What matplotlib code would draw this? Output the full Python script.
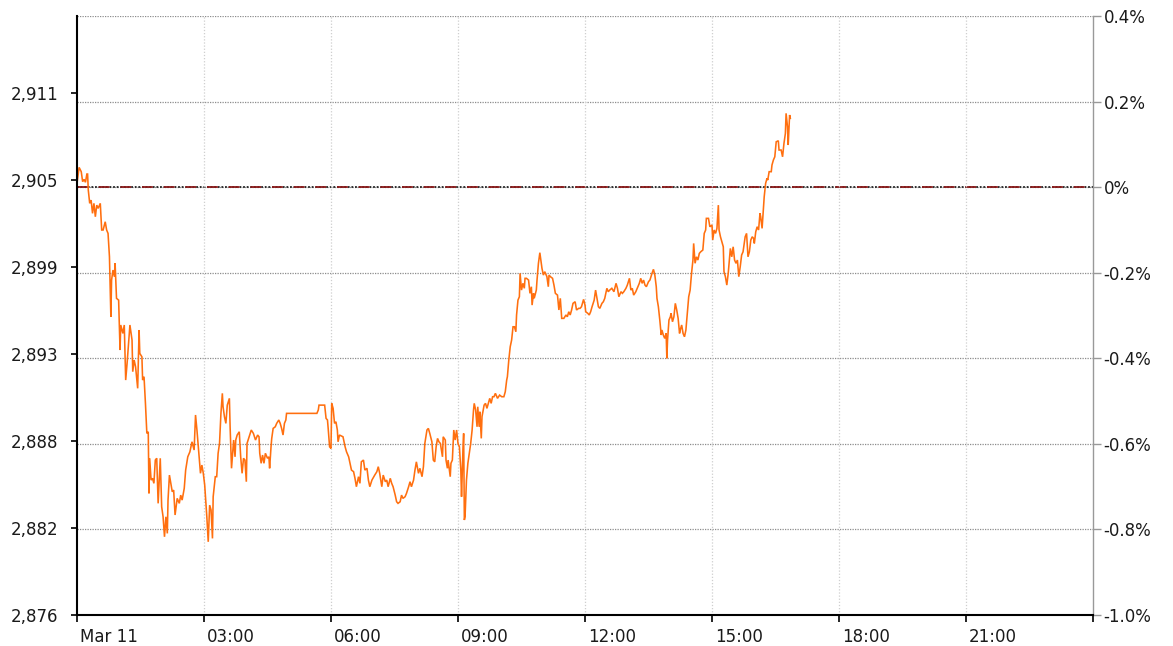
import matplotlib
matplotlib.use("Agg")
import matplotlib.pyplot as plt
import matplotlib.transforms as mtransforms
import numpy as np

# =============================================
# DATA (intraday price, Mar 11, minutes after midnight)
# =============================================
PREV_CLOSE = 2905.0

minutes = [
    0, 3, 6, 8, 10, 12, 14, 15, 16, 18, 20, 22, 24, 26, 28, 30, 33, 35, 37, 40,
    42, 44, 46, 48, 49, 51, 53, 54, 56, 59, 61, 62, 65, 67, 69, 71, 74, 75, 78, 79,
    81, 83, 86, 88, 89, 92, 93, 95, 97, 99, 101, 102, 103, 105, 107, 109, 111, 113, 115, 118,
    120, 122, 124, 126, 128, 129, 131, 133, 135, 137, 139, 142, 145, 147, 149, 152, 154, 157, 160, 163,
    166, 168, 170, 172, 175, 177, 179, 181, 184, 186, 188, 190, 192, 193, 196, 198, 200, 202, 204, 206,
    207, 209, 211, 213, 216, 217, 219, 222, 224, 225, 227, 230, 232, 234, 236, 238, 240, 241, 244, 247,
    250, 253, 256, 258, 259, 261, 263, 265, 267, 270, 272, 273, 275, 276, 278, 281, 283, 286, 288, 290,
    292, 294, 296, 297, 340, 342, 343, 351, 353, 355, 356, 358, 360, 361, 363, 365, 367, 369, 370, 372,
    377, 378, 380, 382, 385, 387, 389, 392, 394, 396, 399, 401, 403, 406, 408, 411, 413, 415, 418, 422,
    425, 427, 429, 432, 434, 437, 439, 441, 444, 446, 448, 451, 453, 455, 458, 460, 462, 465, 467, 470,
    472, 474, 477, 479, 481, 484, 486, 489, 491, 493, 496, 498, 500, 503, 505, 507, 509, 511, 513, 515,
    518, 519, 522, 523, 525, 526, 529, 530, 532, 534, 536, 538, 540, 542, 544, 545, 547, 548, 549, 550,
    552, 554, 556, 558, 560, 562, 563, 565, 567, 568, 570, 571, 573, 574, 577, 579, 581, 583, 585, 587,
    589, 591, 593, 596, 599, 602, 605, 607, 609, 610, 612, 614, 616, 618, 620, 622, 623, 625, 627, 628,
    630, 632, 634, 635, 637, 640, 642, 644, 645, 647, 648, 651, 652, 654, 656, 658, 659, 661, 663, 666,
    668, 669, 671, 674, 676, 678, 681, 683, 685, 687, 690, 693, 695, 697, 699, 701, 703, 706, 708, 711,
    713, 715, 718, 720, 721, 724, 726, 728, 730, 733, 735, 737, 739, 741, 744, 746, 748, 751, 753, 755,
    758, 761, 764, 766, 768, 771, 773, 775, 778, 780, 783, 785, 787, 789, 792, 794, 797, 799, 801, 803,
    805, 807, 810, 812, 815, 817, 819, 821, 822, 824, 826, 828, 829, 831, 833, 835, 836, 837, 839, 841,
    842, 844, 846, 848, 850, 852, 854, 855, 857, 859, 861, 863, 865, 867, 869, 871, 873, 874, 876, 878,
    880, 882, 884, 887, 889, 891, 892, 895, 897, 900, 901, 903, 905, 907, 909, 910, 912, 914, 916, 917,
    919, 921, 923, 925, 926, 928, 930, 932, 934, 936, 938, 940, 942, 944, 945, 947, 949, 951, 953, 955,
    957, 959, 960, 962, 964, 966, 968, 969, 971, 973, 974, 976, 978, 979, 981, 984, 985, 987, 989, 991,
    994, 995, 998, 1000, 1002, 1004, 1005, 1007, 1008, 1010, 1011,
]

prices = [
    2905.26, 2906.34, 2906.05, 2905.37, 2905.53, 2905.33, 2905.89, 2905.89, 2904.80, 2903.90,
    2904.12, 2903.22, 2903.90, 2902.99, 2903.78, 2903.56, 2903.90, 2902.09, 2902.09, 2902.65,
    2902.09, 2901.86, 2900.27, 2896.20, 2898.69, 2899.37, 2898.92, 2899.83, 2897.45, 2897.33,
    2893.94, 2895.64, 2895.07, 2895.64, 2891.90, 2893.04, 2894.96, 2895.64, 2894.62, 2892.47,
    2893.26, 2892.81, 2891.34, 2895.30, 2893.71, 2893.48, 2891.90, 2892.13, 2890.32, 2888.28,
    2888.39, 2884.21, 2886.59, 2885.11, 2885.23, 2884.89, 2886.47, 2886.59, 2883.53, 2886.59,
    2883.30, 2882.62, 2881.26, 2882.62, 2881.49, 2883.75, 2885.45, 2884.89, 2884.32, 2884.43,
    2882.74, 2883.87, 2883.53, 2884.09, 2883.75, 2884.55, 2885.79, 2886.69, 2887.03, 2887.71,
    2887.15, 2889.53, 2888.51, 2887.37, 2885.57, 2886.13, 2885.57, 2884.77, 2882.62, 2880.92,
    2883.41, 2883.08, 2881.15, 2883.98, 2885.34, 2885.34, 2886.93, 2887.60, 2889.64, 2891.00,
    2890.09, 2889.41, 2888.96, 2890.20, 2890.66, 2888.73, 2885.91, 2887.83, 2886.69, 2887.83,
    2888.17, 2888.39, 2886.69, 2885.57, 2886.59, 2886.47, 2885.00, 2887.60, 2888.05, 2888.51,
    2888.28, 2887.83, 2888.17, 2888.05, 2886.93, 2886.25, 2886.81, 2886.25, 2886.93, 2886.59,
    2886.69, 2885.91, 2887.37, 2887.94, 2888.62, 2888.73, 2888.96, 2889.19, 2888.96, 2888.62,
    2888.17, 2888.96, 2889.19, 2889.64, 2889.64, 2889.87, 2890.20, 2890.20, 2889.30, 2889.19,
    2888.62, 2887.37, 2887.26, 2890.32, 2889.98, 2888.96, 2889.07, 2888.51, 2887.71, 2888.17,
    2888.05, 2887.83, 2887.37, 2887.03, 2886.69, 2886.25, 2885.79, 2885.68, 2885.23, 2884.66,
    2885.34, 2884.89, 2886.35, 2886.47, 2885.79, 2885.91, 2885.11, 2884.66, 2885.11, 2885.45,
    2885.68, 2886.02, 2885.57, 2884.66, 2885.45, 2885.00, 2885.11, 2884.66, 2885.23, 2884.89,
    2884.66, 2884.09, 2883.64, 2883.53, 2883.64, 2884.09, 2883.87, 2883.98, 2884.21, 2884.66,
    2885.00, 2884.66, 2885.11, 2885.79, 2886.35, 2885.57, 2885.91, 2885.34, 2886.02, 2887.60,
    2888.51, 2888.62, 2888.28, 2887.71, 2886.47, 2886.35, 2887.37, 2887.94, 2887.71, 2887.60,
    2886.69, 2888.05, 2887.83, 2886.47, 2885.91, 2886.47, 2885.34, 2886.25, 2886.47, 2888.51,
    2887.83, 2888.51, 2887.60, 2887.37, 2885.79, 2883.98, 2887.15, 2888.28, 2882.40, 2882.62,
    2885.11, 2886.25, 2886.93, 2887.60, 2888.51, 2889.87, 2890.32, 2889.87, 2888.73, 2890.09,
    2888.73, 2889.75, 2887.94, 2889.41, 2890.20, 2890.32, 2889.98, 2890.32, 2890.66, 2890.32,
    2890.77, 2890.77, 2891.00, 2890.66, 2890.88, 2890.77, 2890.77, 2891.11, 2891.90, 2892.13,
    2893.26, 2894.16, 2894.62, 2895.52, 2895.52, 2895.18, 2896.32, 2897.33, 2897.56, 2899.15,
    2898.01, 2898.47, 2898.13, 2898.81, 2898.81, 2898.69, 2897.79, 2898.24, 2896.99, 2897.79,
    2897.45, 2898.01, 2898.69, 2899.83, 2900.55, 2899.83, 2899.49, 2899.03, 2899.26, 2898.92,
    2898.24, 2899.03, 2898.92, 2898.81, 2898.35, 2897.79, 2897.67, 2896.66, 2897.45, 2896.09,
    2896.09, 2896.32, 2896.20, 2896.54, 2896.32, 2896.66, 2897.11, 2897.22, 2896.66, 2896.77,
    2896.77, 2896.88, 2897.38, 2896.99, 2896.54, 2896.43, 2896.32, 2896.54, 2896.88, 2897.33,
    2898.01, 2897.45, 2896.88, 2896.77, 2897.11, 2897.22, 2897.45, 2898.13, 2897.90, 2898.01,
    2898.13, 2897.90, 2898.47, 2898.13, 2897.56, 2897.90, 2897.79, 2897.90, 2898.13, 2898.35,
    2898.81, 2898.01, 2898.13, 2897.67, 2897.90, 2898.13, 2898.47, 2898.81, 2898.47, 2898.69,
    2898.35, 2898.24, 2898.58, 2898.69, 2899.15, 2899.42, 2899.03, 2898.24, 2897.45, 2896.88,
    2895.98, 2894.96, 2895.30, 2894.96, 2894.73, 2895.07, 2893.38, 2894.62, 2895.98, 2896.20,
    2896.43, 2895.86, 2896.20, 2897.11, 2896.66, 2896.09, 2895.07, 2895.30, 2895.64, 2895.07,
    2894.84, 2895.30, 2896.43, 2897.56, 2898.01, 2899.15, 2900.05, 2901.18, 2899.83, 2900.27,
    2900.05, 2900.50, 2900.61, 2900.73, 2901.86, 2902.09, 2902.88, 2902.88, 2902.31, 2902.43,
    2901.41, 2902.09, 2901.86, 2902.20, 2903.78, 2902.09, 2901.63, 2901.29, 2900.95, 2899.26,
    2898.92, 2898.35, 2899.15, 2900.27, 2900.84, 2900.27, 2900.95, 2900.05, 2899.83, 2900.05,
    2898.92, 2899.60, 2900.39, 2900.61, 2900.95, 2901.63, 2901.86, 2900.27, 2900.61, 2901.41,
    2901.63, 2901.52, 2901.18, 2901.97, 2902.31, 2902.09, 2903.22, 2902.99, 2902.20, 2903.67,
    2904.35, 2905.26, 2905.60, 2905.48, 2906.05, 2906.05, 2906.50, 2906.84, 2907.06, 2908.08,
    2908.15, 2907.52, 2907.52, 2907.06, 2907.97, 2908.65, 2910.01, 2909.10, 2907.86, 2909.90,
    2909.67,
]

# axis labels
pct_ticks = [-1.0, -0.8, -0.6, -0.4, -0.2, 0.0, 0.2, 0.4]
pct_labels = ['-1.0%', '-0.8%', '-0.6%', '-0.4%', '-0.2%', '0%', '0.2%', '0.4%']
price_labels = ['2,876', '2,882', '2,888', '2,893', '2,899', '2,905', '2,911']
hour_ticks = [0, 3, 6, 9, 12, 15, 18, 21, 24]
hour_labels = ['Mar 11', '03:00', '06:00', '09:00', '12:00', '15:00', '18:00', '21:00', '']

# =============================================
# STYLE
# =============================================
plt.rcParams['font.family'] = ['DejaVu Sans']
TEXT = '#1a1a1a'
LINE = '#ff6f0f'
GRID_H = '#8c8c8c'
GRID_V = '#cfcfcf'

fig = plt.figure(figsize=(11.73, 6.46), dpi=100)
ax = fig.add_axes([77 / 1173, 31 / 646, 1016 / 1173, 599 / 646])
ax2 = ax.twinx()

# percent axis sits behind, price line on top
ax.set_zorder(ax2.get_zorder() + 1)
ax.patch.set_visible(False)

x = np.array(minutes) / 60.0
ax.plot(x, prices, color=LINE, lw=1.15, solid_joinstyle='miter')

ax.set_xlim(0, 24)
ax.set_ylim(PREV_CLOSE * 0.99, PREV_CLOSE * 1.004)
ax2.set_ylim(-1.0, 0.4)

# horizontal grid (percent) + previous close line
for p in pct_ticks[1:]:
    ax2.axhline(p, color=GRID_H, lw=0.9, ls=(0, (1, 1)), zorder=1)
ax2.axhline(0, color='#222222', lw=1.3, ls=(0, (1, 1)), zorder=2)
ax2.axhline(0, color='#8b1a1a', lw=1.3, ls=(0, (6, 6)), zorder=3)

# vertical grid
for h in hour_ticks[1:-1]:
    ax.axvline(h, color=GRID_V, lw=0.9, ls=(0, (1, 1.5)), zorder=0)

# spines
for s in ['top', 'right']:
    ax.spines[s].set_visible(False)
ax.spines['left'].set_color('black')
ax.spines['left'].set_linewidth(1.5)
ax.spines['bottom'].set_color('black')
ax.spines['bottom'].set_linewidth(1.5)
for s in ['top', 'left', 'bottom']:
    ax2.spines[s].set_visible(False)
ax2.spines['right'].set_color('#999999')
ax2.spines['right'].set_linewidth(1.0)

# left price ticks
ax.set_yticks(np.linspace(2875.95, 2911.37, 7))
ax.set_yticklabels(price_labels)
ax.tick_params(axis='y', direction='out', length=4.5, width=1.2, color='black',
               labelsize=12, labelcolor=TEXT, pad=9)

# right percent ticks
ax2.set_yticks(pct_ticks)
ax2.set_yticklabels(pct_labels)
ax2.tick_params(axis='y', direction='out', length=5.5, width=1.0, color='#999999',
                labelsize=12, labelcolor=TEXT, pad=2)

# x ticks
ax.set_xticks(hour_ticks)
ax.set_xticklabels(hour_labels)
ax.tick_params(axis='x', direction='out', length=5, width=1.2, color='black',
               labelsize=12, labelcolor=TEXT, pad=4)
offset = mtransforms.ScaledTranslation(3 / 100, 0, fig.dpi_scale_trans)
for lbl in ax.get_xticklabels():
    lbl.set_horizontalalignment('left')
    lbl.set_transform(lbl.get_transform() + offset)

fig.savefig('out.png', dpi=100)
